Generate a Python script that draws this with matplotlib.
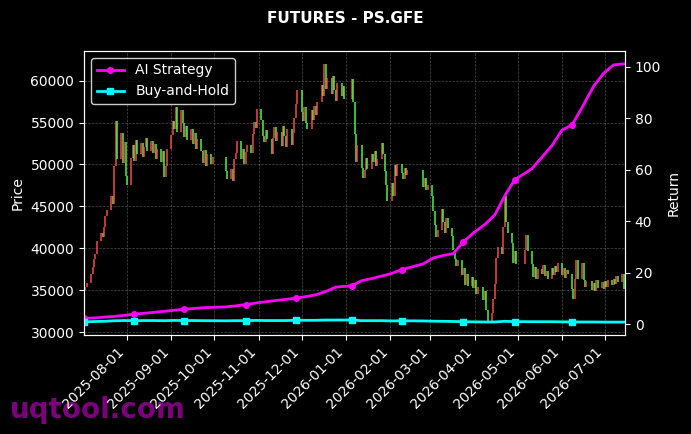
import matplotlib
matplotlib.use('Agg')
import matplotlib.pyplot as plt
import matplotlib.dates as mdates
import pandas as pd
import numpy as np

# trading calendar (weekdays minus exchange holidays)
holidays = ['2025-10-01', '2025-10-02', '2025-10-03', '2025-10-06', '2025-10-07', '2025-10-08',
            '2026-01-01', '2026-01-02',
            '2026-02-16', '2026-02-17', '2026-02-18', '2026-02-19', '2026-02-20', '2026-02-23',
            '2026-04-06', '2026-05-01', '2026-05-04', '2026-05-05', '2026-06-19']

# daily closes
first_open = 35900
close_2025_07 = [35000, 35400, 35900, 36900, 37800, 38700, 39300, 40900, 41800, 41300, 42600,
                 43800, 44600, 46200, 45300, 49800, 55200, 50600, 53800, 50200, 52700, 48600]
close_2025_08 = [47600, 50800, 52300, 50400, 52900, 51300, 52600, 50900, 52100, 53200, 51600,
                 52800, 51400, 52500, 50700, 51900, 50300, 51600, 48500, 49800, 51800]
close_2025_09 = [53500, 55200, 54200, 56800, 53900, 56500, 55000, 53300, 54600, 52900, 54200,
                 52400, 53800, 51900, 53100, 51600, 50200, 51700, 49800, 51300, 50100, 50900]
close_2025_10 = [49200, 48300, 49500, 48000, 50600, 51400, 52800, 50700, 51900, 50100, 51500,
                 52300, 51400, 53600, 55100, 54300, 56600]
close_2025_11 = [55300, 53400, 52700, 54100, 53000, 51300, 53200, 54500, 52800, 53900, 52200,
                 54600, 53400, 52100, 54200, 52300, 53700, 55600, 57200, 58900]
close_2025_12 = [56300, 55200, 56800, 55000, 54200, 56500, 55300, 57000, 55900, 57400, 59500,
                 58200, 62000, 59000, 60300, 58400, 60500, 58900, 57600, 59700, 58200, 59400, 57800]
close_2026_01 = [60200, 57500, 53600, 50300, 52300, 49600, 48400, 49300, 50800, 49500, 51200,
                 50300, 51600, 49800, 50700, 52600, 51300, 49200, 47600, 45600]
close_2026_02 = [47800, 46200, 49900, 48600, 50100, 49000, 48300, 49600, 48700, 49400, 47300,
                 48400, 46900, 47500]
close_2026_03 = [46200, 44500, 42800, 41300, 42200, 44700, 43100, 41800, 43600, 42400, 41500,
                 39800, 38700, 37900, 38600, 36800, 37600, 35600, 36900, 35500, 36600, 35300]
close_2026_04 = [36200, 34600, 35400, 33800, 34900, 32600, 31200, 32300, 33900, 35700, 38900,
                 40200, 39300, 42600, 46300, 43100, 41800, 40600, 38200, 39700, 38100]
close_2026_05 = [39800, 41600, 39700, 38100, 36600, 37800, 36400, 37500, 36900, 38000, 36700,
                 37300, 36300, 37600, 36800, 37900, 37200, 38300]
close_2026_06 = [36800, 37700, 36500, 37400, 36900, 35200, 34000, 36300, 38600, 36400, 38300,
                 36200, 35400, 36100, 35000, 35900, 34900, 36200, 35300, 36000, 35100]
close_2026_07 = [36100, 35400, 36200, 35600, 36400, 35800, 36700, 36000, 36900, 35200]

# weekly return values (every 5th trading day)
ai_return = [2.3, 2.5, 2.8, 3.1, 3.5, 4.0, 4.3, 4.7, 5.1, 5.5, 5.9, 6.2, 6.5, 6.8, 7.2, 7.7, 8.3,
             8.8, 9.3, 9.7, 10.2, 10.8, 11.5, 12.8, 14.5, 15.0, 17.0, 17.8, 18.8, 19.8, 21.3,
             23.5, 25.8, 26.8, 27.5, 32.0, 35.5, 38.8, 42.5, 50.0, 56.2, 60.5, 65.0, 69.5, 75.5,
             77.5, 84.3, 92.5, 97.5, 100.8, 101.2]
bh_return = [1.0, 1.1, 1.2, 1.4, 1.5, 1.45, 1.5, 1.5, 1.45, 1.55, 1.5, 1.5, 1.45, 1.4, 1.45, 1.45,
             1.55, 1.5, 1.5, 1.5, 1.6, 1.6, 1.6, 1.7, 1.7, 1.7, 1.45, 1.45, 1.45, 1.35, 1.4, 1.35,
             1.25, 1.2, 1.15, 1.05, 1.0, 0.95, 0.95, 1.2, 1.1, 1.05, 1.05, 1.05, 1.0, 0.95, 0.95,
             0.95, 0.9, 0.9, 0.9]

closes = (close_2025_07 + close_2025_08 + close_2025_09 + close_2025_10 + close_2025_11 +
          close_2025_12 + close_2026_01 + close_2026_02 + close_2026_03 + close_2026_04 +
          close_2026_05 + close_2026_06 + close_2026_07)
opens = [first_open] + closes[:-1]

days = pd.bdate_range('2025-07-02', '2026-07-14')
days = days[~days.isin(pd.to_datetime(holidays))]
n = min(len(days), len(closes))
days = days[:n]
closes = np.array(closes[:n])
opens = np.array(opens[:n])

up_color = '#ff4d4d'
down_color = '#4dff4d'
colors = [up_color if c >= o else down_color for o, c in zip(opens, closes)]

plt.rcParams['font.family'] = 'DejaVu Sans'
fig = plt.figure(figsize=(6.91, 4.34), dpi=100, facecolor='black')
ax = fig.add_axes([0.1216, 0.2281, 0.7829, 0.6544])
ax.set_facecolor('black')

ax.vlines(days, np.minimum(opens, closes), np.maximum(opens, closes), colors=colors,
          linewidth=1.1, alpha=0.95)
ax.set_xlim(days[0], days[-1] + pd.Timedelta(days=1))
ax.set_ylabel('Price', color='white')
ax.grid(True, color='gray', linestyle='--', linewidth=0.5, alpha=0.6)
ax.xaxis.set_major_locator(mdates.MonthLocator())
ax.xaxis.set_major_formatter(mdates.DateFormatter('%Y-%m-%d'))
plt.setp(ax.get_xticklabels(), rotation=45, ha='right')

ax2 = ax.twinx()
week_days = days[::5]
marks = slice(0, len(week_days) - 1, 5)  # no marker on the last point
ax2.plot(week_days, ai_return, color='magenta', linewidth=2, marker='o', markersize=4,
         markevery=marks, label='AI Strategy')
ax2.plot(week_days, bh_return, color='cyan', linewidth=2, marker='s', markersize=4,
         markevery=marks, label='Buy-and-Hold')
ax2.set_ylabel('Return', color='white')
ax2.set_yticks([0, 20, 40, 60, 80, 100])

for a in (ax, ax2):
    a.tick_params(colors='white')
    for s in a.spines.values():
        s.set_color('white')

leg = ax2.legend(loc='upper left', facecolor='black', edgecolor='white', labelcolor='white')

fig.suptitle('FUTURES - PS.GFE', color='white', fontweight='bold', fontsize=11, y=0.975)
fig.text(0.014, 0.038, 'uqtool.com', color='#8b008b', fontsize=20, fontweight='bold',
         alpha=0.9, zorder=-1)

fig.savefig('out.png', dpi=100, facecolor='black')
